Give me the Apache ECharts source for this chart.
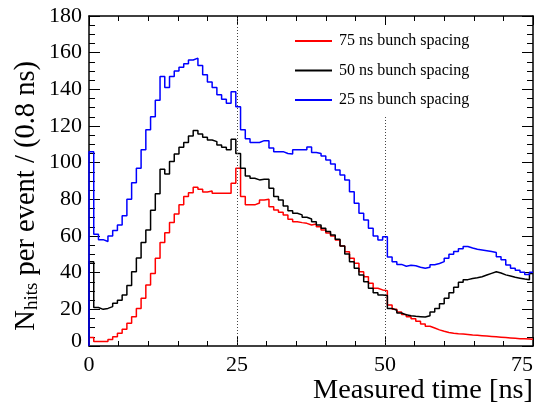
<!DOCTYPE html>
<html><head><meta charset="utf-8">
<script src="https://cdn.jsdelivr.net/npm/echarts@6/dist/echarts.min.js"></script>
<style>html,body{margin:0;padding:0;background:#fff}#c{width:539px;height:406px}</style>
</head><body><div id="c"></div>
<script>
// ---- data ----
const binWidth = 0.8;           // ns per bin
const xMin = 0, xMax = 75;
const seriesNames = ['75 ns bunch spacing', '50 ns bunch spacing', '25 ns bunch spacing'];
const seriesColors = ['#ff0000', '#000000', '#0000ff'];
const xTitle = 'Measured time [ns]';
const yTitleMain = 'N', yTitleSub = 'hits', yTitleRest = ' per event / (0.8 ns)';

// N_hits per event per bin (bins of 0.8 ns starting at 0)
const red75 = [4.7,2.4,2.4,2.4,3.6,5,6.9,9.1,12.4,16,20.5,26,33.3,39.6,47.8,56.4,61.8,67.3,72,77,
  81.5,83.6,86.6,85.5,84,84.5,83.3,83.3,83.3,83.3,88.8,97,81.5,77,77,78,79.6,80,76,74.2,
  72.9,71.5,69.1,67.8,67.3,66.9,66,66.5,65.1,63.3,61.6,60,57.8,54.6,51.4,47.8,45.1,40.5,37.8,34.2,
  31.5,30.6,30.2,22.4,20,18.5,17.2,16,14.8,13.5,12,10.8,9.8,8.8,8,7.4,7,6.7,6.5,6.3,
  6,5.8,5.6,5.4,5.2,5,4.8,4.6,4.4,4.2,4,3.9,3.8,3.7];
const black50 = [46,21,20,20.5,21.5,23.3,25,27.8,33,40.5,48,56.4,63.3,74,83,96.4,93.8,100.6,104.7,108.4,
  111,114.6,117.5,115.7,113.8,112.4,111.5,109.7,108.4,107,112.8,105,97,92.7,91.5,90.6,91,91,86,81.5,
  79.6,76.4,73.8,72.4,71.5,70.2,69.3,67.8,66,64.2,62.4,60.5,58.2,54.6,50.2,46,42.4,38.7,35,31.5,
  29,27.8,27.5,20.5,19.5,18,17,16.5,16.2,16,15.8,16.5,18.5,20.5,23,26,29,32,34.8,36.2,
  36.8,37.2,37.8,38.7,39.6,40.5,39.8,38.8,38.2,37.5,37,36.5,36.2,39.6];
const blue25 = [106,61,58,57,60,63,66,71,80,89,97,107,118,125,134,147,141,147,150,152,
  154,156,157,153,148,144,141,137,134.6,132.4,138.7,130.5,118,113,111,111,112,112,108,106,
  106,105,104.7,107,107,107,108.5,105.6,105,103.6,101.5,99.3,96,93.3,90.6,84.2,77.8,72.4,68.7,64.2,
  60,57.8,59.6,48.5,46,44.5,43.5,44,43.8,43,42.4,43,44.3,45,46,47.8,50,51.5,53,54.3,
  53.5,52.8,52.4,52,51.5,51,48.7,47,44.2,42.4,41.3,40.2,39,40.2];

const xTickInterval = 25;
const yMax = 180, yTickInterval = 20;
// dotted guide lines: x position and upper y value
const guideX = [25, 50];
const guideTop = [180, 125];

// ---- build ----
function toSteps(vals) {
  const pts = [[xMin, 0]];
  vals.forEach((v, i) => pts.push([Math.min(xMin + i * binWidth, xMax), v]));
  pts.push([xMax, vals[vals.length - 1]]);
  return pts;
}
const allVals = [red75, black50, blue25];
const font = 'Liberation Serif';

const series = allVals.map((vals, i) => ({
  name: seriesNames[i],
  type: 'line',
  step: 'end',
  symbol: 'none',
  showSymbol: false,
  clip: true,
  data: toSteps(vals),
  lineStyle: { color: seriesColors[i], width: 1.5 },
  itemStyle: { color: seriesColors[i] },
  z: 3 + i,
  animation: false
}));
series[0].markLine = {
  silent: true,
  symbol: ['none', 'none'],
  label: { show: false },
  lineStyle: { color: '#444', type: [1, 2], width: 1 },
  data: guideX.map((gx, i) => [{ coord: [gx, 0] }, { coord: [gx, guideTop[i]] }]),
  animation: false
};

function xAx(pos, labels) {
  return {
    type: 'value', position: pos, min: xMin, max: xMax, interval: xTickInterval,
    axisLine: { show: true, onZero: false, lineStyle: { color: '#000', width: 1.5 } },
    axisTick: { show: true, inside: true, length: 9, lineStyle: { color: '#000', width: 1 } },
    minorTick: { show: true, splitNumber: 5, length: 5, lineStyle: { color: '#000', width: 1 } },
    splitLine: { show: false },
    axisLabel: { show: labels, fontFamily: font, fontSize: 22, color: '#000', margin: 8, alignMaxLabel: 'right' }
  };
}
function yAx(pos, labels) {
  return {
    type: 'value', position: pos, min: 0, max: yMax, interval: yTickInterval,
    axisLine: { show: true, onZero: false, lineStyle: { color: '#000', width: 1.5 } },
    axisTick: { show: true, inside: true, length: 11, lineStyle: { color: '#000', width: 1 } },
    minorTick: { show: true, splitNumber: 4, length: 6, lineStyle: { color: '#000', width: 1 } },
    splitLine: { show: false },
    axisLabel: {
      show: labels, fontFamily: font, fontSize: 22, color: '#000', margin: 7,
      formatter: v => (v === 0 ? '{z|0}' : String(v)),
      rich: { z: { fontFamily: font, fontSize: 22, color: '#000', padding: [0, 0, 10, 0] } }
    }
  };
}

const chart = echarts.init(document.getElementById('c'), null, { renderer: 'canvas' });
chart.setOption({
  backgroundColor: '#fff',
  animation: false,
  grid: { left: 89, right: 6, top: 16, bottom: 60, containLabel: false, outerBoundsMode: 'none' },
  legend: {
    orient: 'vertical', left: 295, top: 33, padding: 0, itemWidth: 37, itemHeight: 2, itemGap: 13.5,
    icon: 'rect', selectedMode: false,
    textStyle: { fontFamily: font, fontSize: 16, lineHeight: 16, color: '#000', padding: [0, 0, 0, 2] },
    data: seriesNames
  },
  xAxis: [xAx('bottom', true), xAx('top', false)],
  yAxis: [yAx('left', true), yAx('right', false)],
  graphic: [{
    type: 'text', x: 27, y: 61, rotation: Math.PI / 2,
    style: {
      text: '{n|' + yTitleMain + '}{s|' + yTitleSub + '}{n|' + yTitleRest + '}',
      align: 'right', verticalAlign: 'middle', fill: '#000',
      rich: {
        n: { fontFamily: font, fontSize: 28.5, lineHeight: 30, fill: '#000' },
        s: { fontFamily: font, fontSize: 19, lineHeight: 12, verticalAlign: 'bottom', fill: '#000' }
      }
    }
  }, {
    type: 'text', x: 533, y: 391,
    style: { text: xTitle, fontFamily: font, fontSize: 28.3, fill: '#000', align: 'right', verticalAlign: 'middle' }
  }],
  series: series
});
</script></body></html>
